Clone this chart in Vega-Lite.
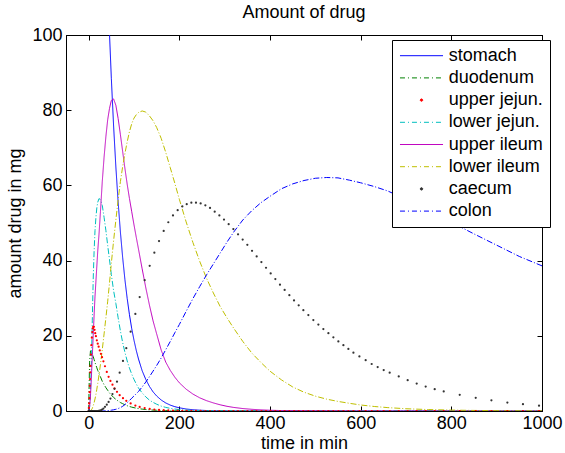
{
  "$schema": "https://vega.github.io/schema/vega-lite/v6.json",
  "autosize": "none",
  "width": 476,
  "height": 376,
  "padding": {"left": 66, "top": 35, "right": 23, "bottom": 42},
  "background": "white",
  "title": {"text": "Amount of drug", "font": "Liberation Sans", "fontSize": 18, "fontWeight": "normal", "color": "black", "offset": 4},
  "config": {
    "view": {"stroke": "black", "strokeWidth": 1},
    "axis": {"grid": false, "domainColor": "black", "domainWidth": 1, "tickColor": "black", "tickWidth": 1, "tickSize": -5,
      "labelFont": "Liberation Sans", "labelFontSize": 18, "labelColor": "black",
      "titleFont": "Liberation Sans", "titleFontSize": 18, "titleFontWeight": "normal", "titleColor": "black", "labelFlush": false, "labelOverlap": false}
  },
  "datasets": {
    "lines": [
      {"t":0,"st":417,"du":0,"lj":0,"ui":0,"li":0,"co":0},
      {"t":2,"st":392,"du":13,"lj":1,"ui":1,"li":0,"co":0},
      {"t":4,"st":368,"du":16,"lj":5,"ui":4,"li":0.1,"co":0},
      {"t":6,"st":346,"du":16,"lj":13,"ui":9,"li":0.3,"co":0},
      {"t":8,"st":325,"du":15.3,"lj":24,"ui":14.5,"li":0.7,"co":0},
      {"t":10,"st":306,"du":14.5,"lj":35,"ui":20,"li":1.4,"co":0},
      {"t":12,"st":287,"du":13.7,"lj":42.5,"ui":25.5,"li":2.2,"co":0},
      {"t":14,"st":270,"du":12.9,"lj":48,"ui":30.5,"li":3.2,"co":0},
      {"t":16,"st":254,"du":12.2,"lj":51.5,"ui":34.5,"li":4.4,"co":0},
      {"t":18,"st":239,"du":11.5,"lj":54,"ui":38.5,"li":5.8,"co":0},
      {"t":20,"st":224,"du":10.8,"lj":55.5,"ui":42.5,"li":7.3,"co":0},
      {"t":22.8,"st":206,"du":10,"lj":56.5,"ui":47,"li":9.6,"co":0},
      {"t":26,"st":186,"du":9.1,"lj":56.2,"ui":53,"li":12.4,"co":0},
      {"t":30,"st":165,"du":7.9,"lj":54.7,"ui":61,"li":16.3,"co":0},
      {"t":34,"st":145,"du":7,"lj":51.5,"ui":67.5,"li":20.5,"co":0.02},
      {"t":38,"st":128,"du":6.2,"lj":48,"ui":73,"li":24.8,"co":0.05},
      {"t":42,"st":113.4,"du":5.5,"lj":44,"ui":77.5,"li":29.2,"co":0.1},
      {"t":46,"st":100.2,"du":4.8,"lj":40.2,"ui":80.5,"li":34.1,"co":0.15},
      {"t":50,"st":88.5,"du":4.25,"lj":36.3,"ui":82.6,"li":39.3,"co":0.22},
      {"t":55,"st":75.8,"du":3.6,"lj":32,"ui":83,"li":45.3,"co":0.32},
      {"t":60,"st":64.9,"du":3.1,"lj":28.6,"ui":81.3,"li":50.8,"co":0.45},
      {"t":65,"st":55.6,"du":2.65,"lj":24.8,"ui":77.8,"li":56.2,"co":0.65},
      {"t":70,"st":47.6,"du":2.25,"lj":21.3,"ui":73.5,"li":61,"co":0.9},
      {"t":75,"st":40.8,"du":1.95,"lj":18.2,"ui":69,"li":65,"co":1.25},
      {"t":80,"st":34.9,"du":1.65,"lj":15.6,"ui":64.5,"li":68.5,"co":1.7},
      {"t":85,"st":29.9,"du":1.4,"lj":13.3,"ui":60.3,"li":71.6,"co":2.2},
      {"t":90,"st":25.6,"du":1.2,"lj":11.4,"ui":56.5,"li":74.3,"co":2.8},
      {"t":95,"st":21.9,"du":1.03,"lj":9.8,"ui":53,"li":76.4,"co":3.4},
      {"t":100,"st":18.8,"du":0.88,"lj":8.4,"ui":49.5,"li":77.9,"co":4},
      {"t":105,"st":16.1,"du":0.75,"lj":7.2,"ui":46.2,"li":78.8,"co":4.6},
      {"t":110,"st":13.8,"du":0.64,"lj":6.1,"ui":43,"li":79.4,"co":5.2},
      {"t":118,"st":10.7,"du":0.5,"lj":4.8,"ui":37.8,"li":79.8,"co":6.4},
      {"t":126,"st":8.4,"du":0.39,"lj":3.75,"ui":32.8,"li":79.5,"co":7.7},
      {"t":134,"st":6.55,"du":0.3,"lj":2.9,"ui":28.2,"li":78.5,"co":9.1},
      {"t":142,"st":5.1,"du":0.24,"lj":2.3,"ui":24,"li":77.2,"co":10.6},
      {"t":150,"st":3.99,"du":0.19,"lj":1.8,"ui":20.5,"li":75.4,"co":12.1},
      {"t":160,"st":2.92,"du":0.14,"lj":1.3,"ui":16.2,"li":72.5,"co":14.1},
      {"t":170,"st":2.14,"du":0.1,"lj":0.96,"ui":13,"li":68.8,"co":16.3},
      {"t":180,"st":1.57,"du":0.07,"lj":0.7,"ui":10.8,"li":64.7,"co":18.5},
      {"t":190,"st":1.15,"du":0.05,"lj":0.52,"ui":9,"li":60.6,"co":20.8},
      {"t":200,"st":0.85,"du":0.04,"lj":0.38,"ui":7.5,"li":56.3,"co":23},
      {"t":215,"st":0.53,"du":0.02,"lj":0.24,"ui":5.8,"li":50.3,"co":26.5},
      {"t":230,"st":0.33,"du":0.01,"lj":0.15,"ui":4.5,"li":44.8,"co":29.9},
      {"t":245,"st":0.21,"du":0,"lj":0.09,"ui":3.5,"li":39.8,"co":33.1},
      {"t":260,"st":0.13,"du":0,"lj":0.06,"ui":2.75,"li":35.3,"co":36.2},
      {"t":275,"st":0.08,"du":0,"lj":0.04,"ui":2.15,"li":31.4,"co":39.1},
      {"t":290,"st":0.05,"du":0,"lj":0.02,"ui":1.65,"li":27.8,"co":42},
      {"t":305,"st":0.03,"du":0,"lj":0.01,"ui":1.25,"li":24.8,"co":44.9},
      {"t":320,"st":0.02,"du":0,"lj":0,"ui":0.95,"li":22,"co":47.6},
      {"t":340,"st":0.01,"du":0,"lj":0,"ui":0.65,"li":18.5,"co":50.8},
      {"t":360,"st":0,"du":0,"lj":0,"ui":0.45,"li":15.4,"co":53.3},
      {"t":380,"st":0,"du":0,"lj":0,"ui":0.3,"li":12.9,"co":55.4},
      {"t":400,"st":0,"du":0,"lj":0,"ui":0.2,"li":10.6,"co":57.1},
      {"t":425,"st":0,"du":0,"lj":0,"ui":0.12,"li":8.3,"co":59.1},
      {"t":450,"st":0,"du":0,"lj":0,"ui":0.08,"li":6.4,"co":60.4},
      {"t":475,"st":0,"du":0,"lj":0,"ui":0.05,"li":5,"co":61.3},
      {"t":500,"st":0,"du":0,"lj":0,"ui":0.03,"li":3.95,"co":61.9},
      {"t":525,"st":0,"du":0,"lj":0,"ui":0.02,"li":3.15,"co":62.1},
      {"t":550,"st":0,"du":0,"lj":0,"ui":0.01,"li":2.55,"co":62},
      {"t":575,"st":0,"du":0,"lj":0,"ui":0,"li":2.05,"co":61.4},
      {"t":600,"st":0,"du":0,"lj":0,"ui":0,"li":1.6,"co":60.7},
      {"t":630,"st":0,"du":0,"lj":0,"ui":0,"li":1.2,"co":59.7},
      {"t":660,"st":0,"du":0,"lj":0,"ui":0,"li":0.9,"co":58.5},
      {"t":700,"st":0,"du":0,"lj":0,"ui":0,"li":0.6,"co":56.3},
      {"t":750,"st":0,"du":0,"lj":0,"ui":0,"li":0.38,"co":53.3},
      {"t":800,"st":0,"du":0,"lj":0,"ui":0,"li":0.24,"co":50.2},
      {"t":850,"st":0,"du":0,"lj":0,"ui":0,"li":0.15,"co":47.1},
      {"t":900,"st":0,"du":0,"lj":0,"ui":0,"li":0.09,"co":44.1},
      {"t":950,"st":0,"du":0,"lj":0,"ui":0,"li":0.06,"co":41.1},
      {"t":1000,"st":0,"du":0,"lj":0,"ui":0,"li":0.04,"co":38.6}
    ],
    "dots": [
      {"t":0,"uj":0,"ca":0},{"t":0.5,"uj":0.8,"ca":0},{"t":1,"uj":2,"ca":0},{"t":1.5,"uj":3.4,"ca":0},
      {"t":2,"uj":5,"ca":0},{"t":2.5,"uj":6.7,"ca":0},{"t":3,"uj":8.5,"ca":0},{"t":3.5,"uj":10.3,"ca":0},
      {"t":4,"uj":12,"ca":0},{"t":5,"uj":15,"ca":0},{"t":6,"uj":17.5,"ca":0},{"t":7,"uj":19.5,"ca":0},
      {"t":8,"uj":21,"ca":0},{"t":9,"uj":22,"ca":0},{"t":10,"uj":22.4,"ca":0},{"t":11.5,"uj":22.4,"ca":0},
      {"t":13,"uj":21.6,"ca":0},{"t":14.5,"uj":20.7,"ca":0},{"t":16,"uj":19.9,"ca":0},{"t":18,"uj":18.8,"ca":0},
      {"t":20,"uj":17.9,"ca":0},{"t":22,"uj":17.1,"ca":0.02},{"t":24.5,"uj":16.1,"ca":0.08},{"t":27,"uj":15.2,"ca":0.2},
      {"t":29.5,"uj":14.3,"ca":0.38},{"t":32.5,"uj":13.2,"ca":0.65},{"t":36,"uj":11.9,"ca":1.1},{"t":40,"uj":10.4,"ca":1.67},
      {"t":44,"uj":9.1,"ca":2.4},{"t":48,"uj":8,"ca":3.3},{"t":52.5,"uj":7,"ca":4.5},{"t":57,"uj":6,"ca":5.9},
      {"t":62.5,"uj":5.1,"ca":7.8},{"t":68.4,"uj":4.2,"ca":10.2},{"t":75.7,"uj":3.4,"ca":13.3},{"t":83,"uj":2.7,"ca":16.7},
      {"t":92.6,"uj":2,"ca":21.1},{"t":103,"uj":1.45,"ca":25.8},{"t":112.5,"uj":1.08,"ca":30.3},{"t":123.5,"uj":0.77,"ca":34.8},
      {"t":134.6,"uj":0.55,"ca":38.6},{"t":144.9,"uj":0.4,"ca":42.1},{"t":155.2,"uj":0.29,"ca":45.2},{"t":165.5,"uj":0.21,"ca":47.9},
      {"t":175.7,"uj":0.15,"ca":50.2},{"t":186,"uj":0.11,"ca":52},{"t":196.3,"uj":0.08,"ca":53.4},{"t":206.6,"uj":0.06,"ca":54.4},
      {"t":216.3,"uj":0.04,"ca":55},{"t":226.5,"uj":0.03,"ca":55.4},{"t":236.7,"uj":0.02,"ca":55.4},{"t":247,"uj":0.01,"ca":55.2},
      {"t":257.4,"uj":0,"ca":54.7},{"t":267.7,"uj":0,"ca":54},{"t":278,"uj":0,"ca":53},{"t":288.3,"uj":0,"ca":52},
      {"t":298.5,"uj":0,"ca":50.9},{"t":308.8,"uj":0,"ca":49.7},{"t":319.2,"uj":0,"ca":48.4},{"t":329.5,"uj":0,"ca":47},
      {"t":339.7,"uj":0,"ca":45.6},{"t":350,"uj":0,"ca":44.2},{"t":360.4,"uj":0,"ca":42.6},{"t":370.6,"uj":0,"ca":41.1},
      {"t":381,"uj":0,"ca":39.6},{"t":391.2,"uj":0,"ca":38.1},{"t":401.5,"uj":0,"ca":36.6},{"t":411.8,"uj":0,"ca":35.1},
      {"t":422,"uj":0,"ca":33.6},{"t":432.3,"uj":0,"ca":32.2},{"t":442.7,"uj":0,"ca":30.8},{"t":453,"uj":0,"ca":29.4},
      {"t":463.3,"uj":0,"ca":28.1},{"t":473.6,"uj":0,"ca":26.8},{"t":484.6,"uj":0,"ca":25.5},{"t":495.6,"uj":0,"ca":24.2},
      {"t":506.7,"uj":0,"ca":23},{"t":517.7,"uj":0,"ca":21.8},{"t":528.8,"uj":0,"ca":20.7},{"t":539.8,"uj":0,"ca":19.6},
      {"t":550.8,"uj":0,"ca":18.5},{"t":561.9,"uj":0,"ca":17.5},{"t":572.9,"uj":0,"ca":16.5},{"t":584,"uj":0,"ca":15.5},
      {"t":597.2,"uj":0,"ca":14.5},{"t":611,"uj":0,"ca":13.5},{"t":624.3,"uj":0,"ca":12.5},{"t":637.5,"uj":0,"ca":11.7},
      {"t":650.8,"uj":0,"ca":10.9},{"t":664,"uj":0,"ca":10.2},{"t":684,"uj":0,"ca":9.2},{"t":703.7,"uj":0,"ca":8.2},
      {"t":723.6,"uj":0,"ca":7.3},{"t":743.4,"uj":0,"ca":6.5},{"t":763.3,"uj":0,"ca":5.8},{"t":783.2,"uj":0,"ca":5.2},
      {"t":818.5,"uj":0,"ca":4.3},{"t":853.8,"uj":0,"ca":3.5},{"t":888.4,"uj":0,"ca":2.85},{"t":923.6,"uj":0,"ca":2.25},
      {"t":958,"uj":0,"ca":1.8},{"t":993.4,"uj":0,"ca":1.4}
    ]
  },
  "layer": [
    {
      "data": {"name": "lines"},
      "transform": [{"fold": ["st", "du", "lj", "ui", "li", "co"], "as": ["series", "amount"]}],
      "mark": {"type": "line", "clip": true, "strokeWidth": 1},
      "encoding": {
        "x": {"field": "t", "type": "quantitative", "scale": {"domain": [-50, 1000], "nice": false, "zero": false},
          "axis": {"values": [0, 200, 400, 600, 800, 1000], "format": "d", "title": "time in min", "labelPadding": 8, "titlePadding": 2}},
        "y": {"field": "amount", "type": "quantitative", "scale": {"domain": [0, 100], "nice": false, "zero": false},
          "axis": {"values": [0, 20, 40, 60, 80, 100], "format": "d", "title": "amount drug in mg", "labelPadding": 9, "titlePadding": 7}},
        "color": {"field": "series", "type": "nominal",
          "scale": {"domain": ["st", "du", "uj", "lj", "ui", "li", "ca", "co"],
            "range": ["#0000ff", "#008000", "#ff0000", "#00bfbf", "#bf00bf", "#bfbf00", "#333333", "#0000ff"]},
          "legend": {
            "orient": "none", "legendX": 326, "legendY": 5, "title": null,
            "strokeColor": "black", "fillColor": "white", "padding": 6.7,
            "labelFont": "Liberation Sans", "labelFontSize": 18, "labelColor": "black",
            "symbolSize": 225, "symbolStrokeWidth": 1, "symbolOffset": 13.8, "labelOffset": 18.3, "rowPadding": 4.2,
            "labelExpr": "datum.label == 'st' ? 'stomach' : datum.label == 'du' ? 'duodenum' : datum.label == 'uj' ? 'upper jejun.' : datum.label == 'lj' ? 'lower jejun.' : datum.label == 'ui' ? 'upper ileum' : datum.label == 'li' ? 'lower ileum' : datum.label == 'ca' ? 'caecum' : 'colon'",
            "encode": {"symbols": {"update": {
              "shape": [{"test": "datum.value === 'uj' || datum.value === 'ca'", "value": "M-0.16,0A0.16,0.16,0,1,0,0.16,0A0.16,0.16,0,1,0,-0.16,0Z"}, {"value": "M-2.87,0L2.87,0"}],
              "fill": [{"test": "datum.value === 'uj' || datum.value === 'ca'", "scale": "color", "field": "value"}, {"value": "transparent"}],
              "stroke": [{"test": "datum.value === 'uj' || datum.value === 'ca'", "value": "transparent"}, {"scale": "color", "field": "value"}],
              "strokeDash": [{"test": "datum.value === 'du' || datum.value === 'lj' || datum.value === 'li' || datum.value === 'co'", "value": [5, 3, 1, 3]}, {"value": [1, 0]}],
              "opacity": {"value": 1}
            }}}
          }},
        "strokeDash": {"field": "series", "type": "nominal",
          "scale": {"domain": ["st", "du", "lj", "ui", "li", "co"], "range": [[1, 0], [6, 2, 1, 2], [6, 2, 1, 2], [1, 0], [6, 2, 1, 2], [6, 2, 1, 2]]},
          "legend": null}
      }
    },
    {
      "data": {"name": "dots"},
      "transform": [{"fold": ["uj", "ca"], "as": ["series", "amount"]}],
      "mark": {"type": "circle", "size": 5, "opacity": 1, "clip": true},
      "encoding": {
        "x": {"field": "t", "type": "quantitative", "scale": {"domain": [-50, 1000], "nice": false, "zero": false}, "axis": null},
        "y": {"field": "amount", "type": "quantitative", "scale": {"domain": [0, 100], "nice": false, "zero": false}, "axis": null},
        "color": {"field": "series", "type": "nominal",
          "scale": {"domain": ["st", "du", "uj", "lj", "ui", "li", "ca", "co"],
            "range": ["#0000ff", "#008000", "#ff0000", "#00bfbf", "#bf00bf", "#bfbf00", "#333333", "#0000ff"]}}
      }
    },
    {
      "data": {"name": "lines"},
      "mark": {"type": "point", "opacity": 0},
      "encoding": {
        "x": {"field": "t", "type": "quantitative", "scale": {"domain": [-50, 1000], "nice": false, "zero": false},
          "axis": {"orient": "top", "values": [0, 200, 400, 600, 800, 1000], "labels": false, "title": null}},
        "y": {"field": "co", "type": "quantitative", "scale": {"domain": [0, 100], "nice": false, "zero": false},
          "axis": {"orient": "right", "values": [0, 20, 40, 60, 80, 100], "labels": false, "title": null}}
      }
    }
  ],
  "resolve": {"axis": {"x": "independent", "y": "independent"}}
}
